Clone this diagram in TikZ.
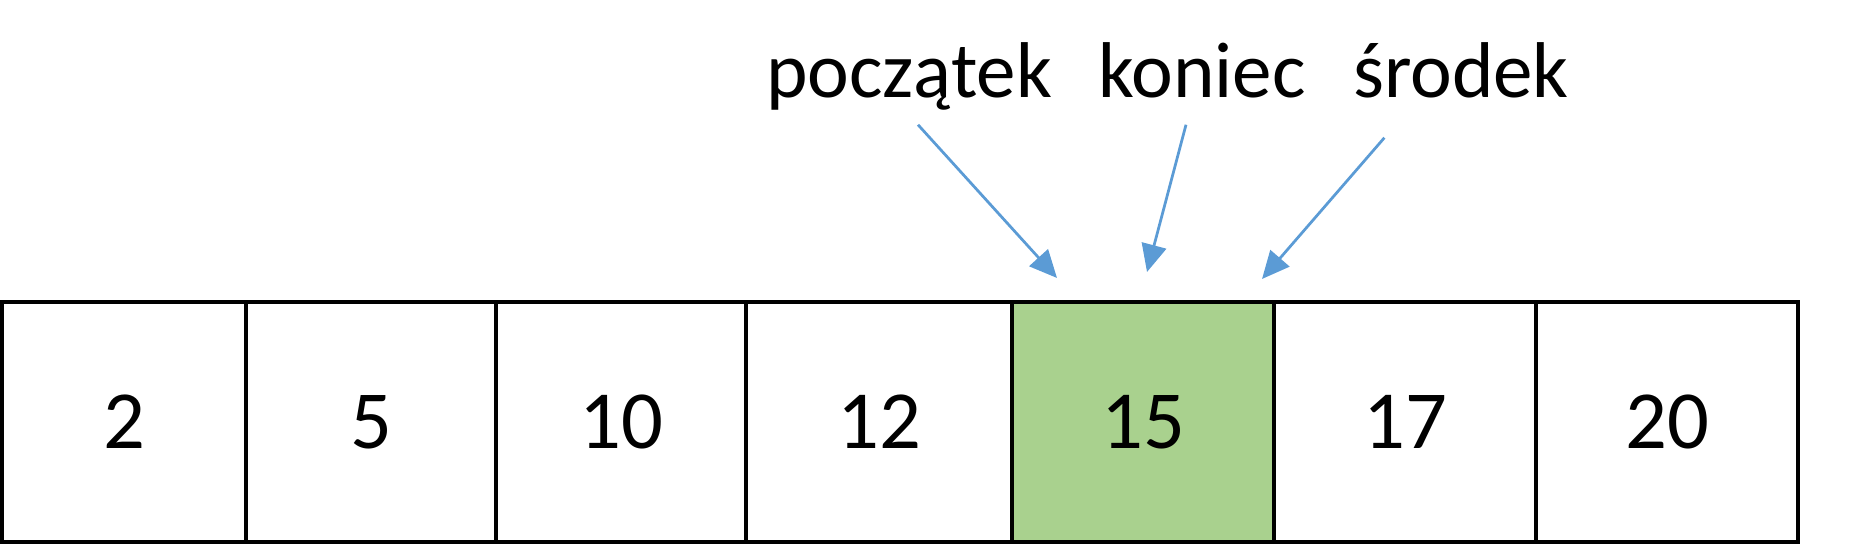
\documentclass[tikz,border=0pt]{standalone}
\usepackage{fontspec}
\setmainfont{Carlito}
\usetikzlibrary{arrows.meta}
\definecolor{cellgreen}{HTML}{A9D18E}
\definecolor{arrowblue}{HTML}{5B9BD5}
\begin{document}
\begin{tikzpicture}[line width = 0.07cm,
                    cell/.style = {rectangle, draw, fill = white, inner sep = 0, outer sep = 0,
                                   minimum height = 4.8cm, font = \fontsize{47}{52}\selectfont},
                    hit/.style = {cell, fill = cellgreen},
                    label/.style = {anchor = base, inner sep = 0, text depth = 0pt,
                                    font = \fontsize{45}{50}\selectfont},
                    pointer/.style = {draw = arrowblue, line width = 0.055cm,
                                      -{Triangle[length = 0.55cm, width = 0.5cm]}}]
  \useasboundingbox (0, 0) rectangle (37.52, 10.88);
  \node [cell, minimum width = 4.88cm] (C1) at (2.48, 2.44) {2};
  \node [cell, minimum width = 5cm] (C2) at (7.42, 2.44) {5};
  \node [cell, minimum width = 5cm] (C3) at (12.42, 2.44) {10};
  \node [cell, minimum width = 5.32cm] (C4) at (17.58, 2.44) {12};
  \node [hit, minimum width = 5.24cm] (C5) at (22.86, 2.44) {15};
  \node [cell, minimum width = 5.24cm] (C6) at (28.10, 2.44) {17};
  \node [cell, minimum width = 5.24cm] (C7) at (33.34, 2.44) {20};
  \node [label] (L1) at (18.18, 8.92) {początek};
  \node [label] (L2) at (24.04, 8.92) {koniec};
  \node [label] (L3) at (29.22, 8.92) {środek};
  \coordinate (P1) at (21.14, 5.32);
  \coordinate (P2) at (22.94, 5.44);
  \coordinate (P3) at (25.24, 5.30);
  \draw [pointer] ([shift = {(0.18, -0.5)}]L1.south) -- (P1);
  \draw [pointer] ([shift = {(-0.32, -0.5)}]L2.south) -- (P2);
  \draw [pointer] ([shift = {(0.66, -0.76)}]L3.south west) -- (P3);
\end{tikzpicture}
\end{document}
